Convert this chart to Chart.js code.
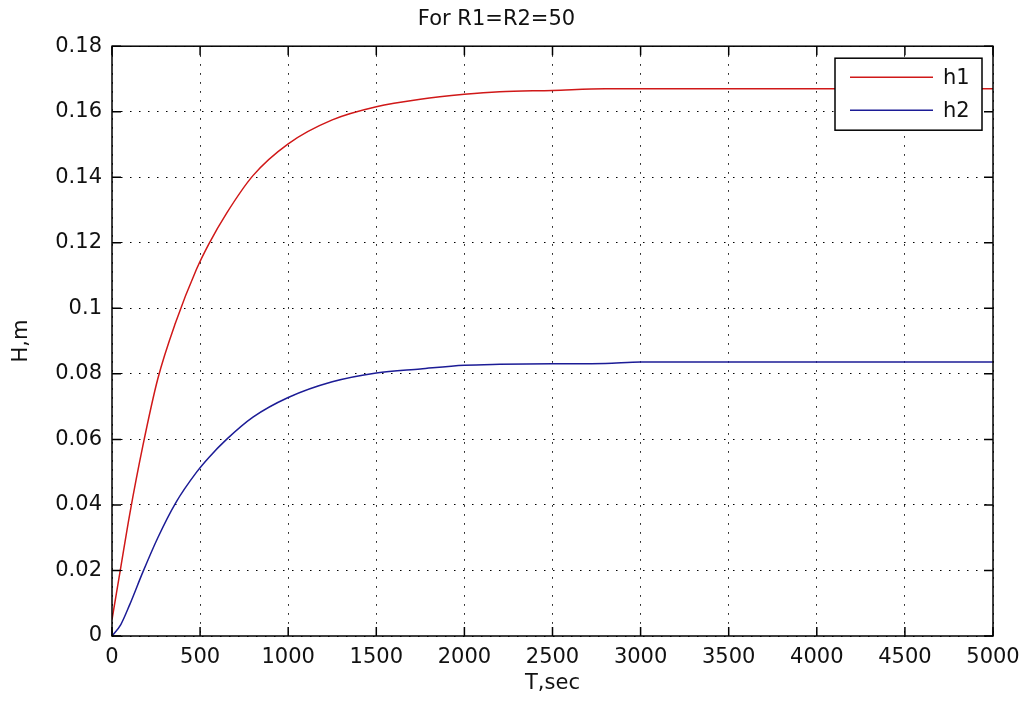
<!DOCTYPE html>
<html>
<head>
<meta charset="utf-8">
<title>For R1=R2=50</title>
<script src="https://cdn.jsdelivr.net/npm/chart.js@4.4.1/dist/chart.umd.min.js"></script>
<style>
  html, body { margin: 0; padding: 0; background: #fff; }
  #wrap { width: 1025px; height: 704px; }
</style>
</head>
<body>
<div id="wrap"><canvas id="levelChart" width="1025" height="704"></canvas></div>
<script>
// values
const timeSec = [0, 50, 100, 175, 260, 360, 480, 550, 650, 800, 1000, 1250, 1500, 1750, 2000, 2200, 2500, 2800, 3000, 3500, 4000, 4500, 5000];
const h1 = [0.005, 0.021, 0.037, 0.058, 0.0785, 0.0955, 0.112, 0.1197, 0.129, 0.1405, 0.1502, 0.1575, 0.1615, 0.1638, 0.1653, 0.1661, 0.1665, 0.1670, 0.1670, 0.1670, 0.1670, 0.1670, 0.1670];
const h2 = [0, 0.0035, 0.0095, 0.0195, 0.030, 0.0405, 0.050, 0.0545, 0.060, 0.0668, 0.0728, 0.0776, 0.0803, 0.0815, 0.0826, 0.0829, 0.0831, 0.0832, 0.0836, 0.0836, 0.0836, 0.0836, 0.0836];
const xTicks = [0, 500, 1000, 1500, 2000, 2500, 3000, 3500, 4000, 4500, 5000];
const yTicks = [0, 0.02, 0.04, 0.06, 0.08, 0.1, 0.12, 0.14, 0.16, 0.18];

const FONT = "'DejaVu Sans', sans-serif";
const INK = "#111";

// box round the plot + MATLAB style inward ticks on all four sides
const frameAndTicks = {
  id: "frameAndTicks",
  afterDatasetsDraw(chart) {
    const { ctx, chartArea: a, scales } = chart;
    const len = 9;
    ctx.save();
    ctx.strokeStyle = "#000";
    ctx.lineWidth = 1.5;
    ctx.beginPath();
    xTicks.forEach(v => {
      const px = scales.x.getPixelForValue(v);
      ctx.moveTo(px, a.bottom); ctx.lineTo(px, a.bottom - len);
      ctx.moveTo(px, a.top); ctx.lineTo(px, a.top + len);
    });
    yTicks.forEach(v => {
      const py = scales.y.getPixelForValue(v);
      ctx.moveTo(a.left, py); ctx.lineTo(a.left + len, py);
      ctx.moveTo(a.right, py); ctx.lineTo(a.right - len, py);
    });
    ctx.stroke();
    ctx.strokeRect(a.left, a.top, a.right - a.left, a.bottom - a.top);
    ctx.restore();
  }
};

// boxed legend in the upper right corner
const boxedLegend = {
  id: "boxedLegend",
  afterDraw(chart) {
    const { ctx, chartArea: a } = chart;
    const w = 147, h = 72;
    const x0 = a.right - 11 - w, y0 = a.top + 12;
    ctx.save();
    ctx.fillStyle = "#fff";
    ctx.fillRect(x0, y0, w, h);
    ctx.strokeStyle = "#000";
    ctx.lineWidth = 1.5;
    ctx.strokeRect(x0, y0, w, h);
    ctx.font = "21px " + FONT;
    ctx.textBaseline = "middle";
    chart.data.datasets.forEach((ds, i) => {
      const y = y0 + 19 + i * 33;
      ctx.strokeStyle = ds.borderColor;
      ctx.lineWidth = 1.5;
      ctx.beginPath();
      ctx.moveTo(x0 + 15, y);
      ctx.lineTo(x0 + 98, y);
      ctx.stroke();
      ctx.fillStyle = INK;
      ctx.fillText(ds.label, x0 + 108, y + 1);
    });
    ctx.restore();
  }
};

const ctx = document.getElementById("levelChart");
const chart = new Chart(ctx, {
  type: "line",
  data: {
    datasets: [
      { label: "h1", data: timeSec.map((t, i) => ({ x: t, y: h1[i] })), borderColor: "#d01818" },
      { label: "h2", data: timeSec.map((t, i) => ({ x: t, y: h2[i] })), borderColor: "#1c1c96" }
    ]
  },
  options: {
    responsive: false,
    animation: false,
    devicePixelRatio: 1,
    layout: { padding: { left: 0, right: 32, top: 0, bottom: 0 } },
    elements: {
      point: { radius: 0 },
      line: { borderWidth: 1.5, cubicInterpolationMode: "monotone", fill: false }
    },
    plugins: {
      legend: { display: false },
      tooltip: { enabled: false },
      title: {
        display: true,
        text: "For R1=R2=50",
        color: INK,
        font: { family: FONT, size: 21, weight: "normal" },
        padding: { top: 7, bottom: 14 }
      }
    },
    scales: {
      x: {
        type: "linear",
        min: 0,
        max: 5000,
        afterBuildTicks: s => { s.ticks = xTicks.map(v => ({ value: v })); },
        afterFit: s => { s.height = 68; s.paddingLeft = 0; s.paddingRight = 0; },
        ticks: {
          color: INK,
          padding: 9,
          maxRotation: 0,
          font: { family: FONT, size: 21 },
          callback: v => String(v)
        },
        grid: { color: "#000", lineWidth: 1, drawTicks: false },
        border: { display: false, dash: [1.5, 7.5] },
        title: {
          display: true,
          text: "T,sec",
          color: INK,
          font: { family: FONT, size: 21 },
          padding: { top: 0, bottom: 8 }
        }
      },
      y: {
        min: 0,
        max: 0.18,
        afterBuildTicks: s => { s.ticks = yTicks.map(v => ({ value: v })); },
        afterFit: s => { s.width = 112; },
        ticks: {
          color: INK,
          padding: 10,
          font: { family: FONT, size: 21 },
          callback: v => String(Number(v.toFixed(2)))
        },
        grid: { color: "#000", lineWidth: 1, drawTicks: false },
        border: { display: false, dash: [1.5, 7.5] },
        title: {
          display: true,
          text: "H,m",
          color: INK,
          font: { family: FONT, size: 21 },
          padding: { top: 9, bottom: 0 }
        }
      }
    }
  },
  plugins: [frameAndTicks, boxedLegend]
});
</script>
</body>
</html>
